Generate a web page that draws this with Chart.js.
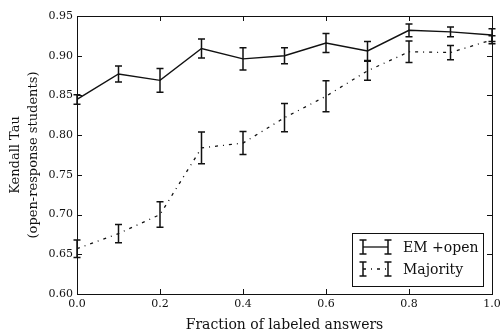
<!DOCTYPE html>
<html>
<head>
<meta charset="utf-8">
<script src="https://cdn.jsdelivr.net/npm/chart.js@4/dist/chart.umd.min.js"></script>
<style>
html,body{margin:0;padding:0;background:#fff;}
canvas{display:block;}
</style>
</head>
<body>
<canvas id="c" width="500" height="331"></canvas>
<script>
const fractions = [0.0, 0.1, 0.2, 0.3, 0.4, 0.5, 0.6, 0.7, 0.8, 0.9, 1.0];
const emOpen = [0.845, 0.877, 0.869, 0.909, 0.896, 0.900, 0.916, 0.906, 0.932, 0.930, 0.926];
const emOpenErr = [0.006, 0.010, 0.015, 0.012, 0.014, 0.010, 0.012, 0.012, 0.008, 0.006, 0.008];
const majority = [0.657, 0.676, 0.700, 0.784, 0.790, 0.822, 0.849, 0.881, 0.905, 0.904, 0.920];
const majorityErr = [0.011, 0.0115, 0.016, 0.020, 0.0145, 0.0177, 0.0195, 0.012, 0.0136, 0.009, 0.005];
const xTickLabels = ['0.0', '0.2', '0.4', '0.6', '0.8', '1.0'];
const yTickLabels = ['0.60', '0.65', '0.70', '0.75', '0.80', '0.85', '0.90', '0.95'];
const seriesNames = ['EM +open', 'Majority'];

const FONT = "'DejaVu Serif', 'Liberation Serif', serif";
const INK = '#111';
const DASHDOT = [3, 5, 1, 5];

function pts(vals) { return fractions.map((x, i) => ({x: x, y: vals[i]})); }

const errPlugin = {
  id: 'errbars',
  afterDatasetsDraw(chart) {
    const ctx = chart.ctx, xs = chart.scales.x, ys = chart.scales.y;
    const errs = [emOpenErr, majorityErr];
    chart.data.datasets.forEach((ds, di) => {
      ctx.save();
      ctx.strokeStyle = INK;
      ctx.lineWidth = 1.5;
      ds.data.forEach((p, j) => {
        const e = errs[di][j];
        const px = xs.getPixelForValue(p.x);
        const t = ys.getPixelForValue(p.y + e);
        const b = ys.getPixelForValue(p.y - e);
        ctx.beginPath();
        ctx.moveTo(px, t); ctx.lineTo(px, b);
        ctx.moveTo(px - 3.5, t); ctx.lineTo(px + 3.5, t);
        ctx.moveTo(px - 3.5, b); ctx.lineTo(px + 3.5, b);
        ctx.stroke();
      });
      ctx.restore();
    });
  },
  afterDraw(chart) {
    const ctx = chart.ctx, a = chart.chartArea, xs = chart.scales.x, ys = chart.scales.y;
    ctx.save();
    ctx.strokeStyle = INK;
    ctx.lineWidth = 1;
    ctx.strokeRect(Math.round(a.left) + 0.5, Math.round(a.top) + 0.5, Math.round(a.right - a.left), Math.round(a.bottom - a.top));
    const L = 5;
    ctx.beginPath();
    xs.ticks.forEach(t => {
      const px = Math.round(xs.getPixelForValue(t.value)) + 0.5;
      ctx.moveTo(px, a.bottom); ctx.lineTo(px, a.bottom - L);
      ctx.moveTo(px, a.top); ctx.lineTo(px, a.top + L);
    });
    ys.ticks.forEach(t => {
      const py = Math.round(ys.getPixelForValue(t.value)) + 0.5;
      ctx.moveTo(a.left, py); ctx.lineTo(a.left + L, py);
      ctx.moveTo(a.right, py); ctx.lineTo(a.right - L, py);
    });
    ctx.stroke();

    const w = 131, h = 53;
    const lx = a.right - 9 - w, ly = a.bottom - 8 - h;
    ctx.fillStyle = '#fff';
    ctx.fillRect(lx, ly, w, h);
    ctx.strokeRect(Math.round(lx) + 0.5, Math.round(ly) + 0.5, w, h);
    ctx.font = '14px ' + FONT;
    ctx.textBaseline = 'middle';
    ctx.textAlign = 'left';
    ctx.fillStyle = INK;
    chart.data.datasets.forEach((ds, i) => {
      const cy = ly + 14 + i * 22;
      const x1 = lx + 11, x2 = lx + 36;
      ctx.lineWidth = 1.5;
      ctx.setLineDash([]);
      ctx.beginPath();
      [x1, x2].forEach(x => {
        ctx.moveTo(x, cy - 7); ctx.lineTo(x, cy + 7);
        ctx.moveTo(x - 3.5, cy - 7); ctx.lineTo(x + 3.5, cy - 7);
        ctx.moveTo(x - 3.5, cy + 7); ctx.lineTo(x + 3.5, cy + 7);
      });
      ctx.stroke();
      ctx.lineWidth = 1.3;
      ctx.setLineDash(ds.borderDash || []);
      ctx.beginPath();
      ctx.moveTo(x1, cy); ctx.lineTo(x2, cy);
      ctx.stroke();
      ctx.setLineDash([]);
      ctx.fillText(ds.label, lx + 51, cy + 1);
    });
    ctx.restore();
  }
};

new Chart(document.getElementById('c'), {
  type: 'line',
  data: {
    datasets: [
      { label: seriesNames[0], data: pts(emOpen), borderColor: INK, borderWidth: 1.4, pointRadius: 0, tension: 0, fill: false },
      { label: seriesNames[1], data: pts(majority), borderColor: INK, borderWidth: 1.3, borderDash: DASHDOT, pointRadius: 0, tension: 0, fill: false }
    ]
  },
  options: {
    responsive: false,
    animation: false,
    devicePixelRatio: 1,
    layout: { padding: { left: 0, right: 8, top: 16, bottom: -3 } },
    plugins: { legend: { display: false }, tooltip: { enabled: false } },
    scales: {
      x: {
        type: 'linear', min: 0, max: 1,
        grid: { display: false, drawTicks: false },
        border: { display: false },
        ticks: {
          stepSize: 0.2, padding: 4, color: INK, maxRotation: 0,
          font: { family: FONT, size: 11 },
          callback: (v) => xTickLabels[Math.round(v / 0.2)]
        },
        title: { display: true, text: 'Fraction of labeled answers', color: INK, font: { family: FONT, size: 14 }, padding: { top: 0, bottom: 0 } },
        afterFit: (s) => { s.height = 40; s.paddingLeft = 0; s.paddingRight = 0; }
      },
      y: {
        type: 'linear', min: 0.6, max: 0.95,
        grid: { display: false, drawTicks: false },
        border: { display: false },
        ticks: {
          stepSize: 0.05, padding: 4, color: INK,
          font: { family: FONT, size: 11 },
          callback: (v) => yTickLabels[Math.round((v - 0.6) / 0.05)]
        },
        title: { display: true, text: ['Kendall Tau', '(open-response students)'], color: INK, font: { family: FONT, size: 13, lineHeight: 1.35 }, padding: { top: 7, bottom: 0 } },
        afterFit: (s) => { s.width = 77; s.paddingTop = 0; s.paddingBottom = 0; }
      }
    }
  },
  plugins: [errPlugin]
});
</script>
</body>
</html>
